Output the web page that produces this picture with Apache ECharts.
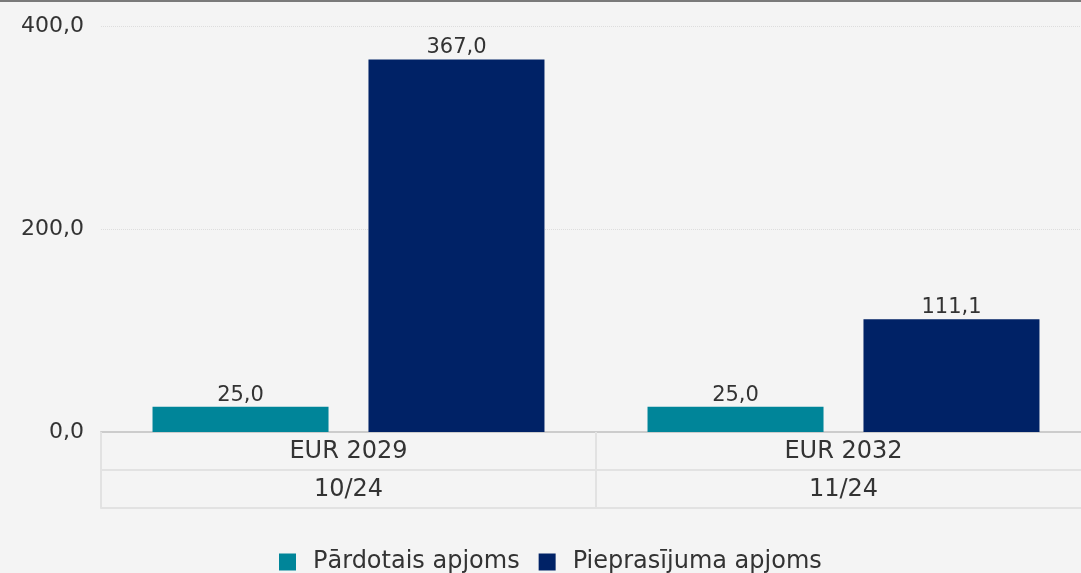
<!DOCTYPE html>
<html>
<head>
<meta charset="utf-8">
<script src="https://cdn.jsdelivr.net/npm/echarts@6/dist/echarts.min.js"></script>
<style>
  html, body { margin: 0; padding: 0; background: #f4f4f4; overflow: hidden; }
  #top { height: 2px; background: #7a7a7a; width: 1081px; }
  #chart { width: 1093px; height: 571px; }
</style>
</head>
<body>
<div id="top"></div>
<div id="chart"></div>
<script>
  // data
  var bonds = ['EUR 2029', 'EUR 2032'];
  var dates = ['10/24', '11/24'];
  var seriesNames = ['Pārdotais apjoms', 'Pieprasījuma apjoms'];
  var sold = [25.0, 25.0];
  var demand = [367.0, 111.1];
  var yTicks = [0, 200, 400];

  var fmt = function (v) { return Number(v).toFixed(1).replace('.', ','); };
  var font = 'DejaVu Sans';

  var myChart = echarts.init(document.getElementById('chart'));

  var option = {
    backgroundColor: '#f4f4f4',
    textStyle: { fontFamily: font },
    grid: { left: 101, top: 24, width: 990, height: 406 },
    legend: {
      data: seriesNames,
      left: 274,
      top: 543,
      itemWidth: 17,
      itemHeight: 17,
      itemGap: 19,
      icon: 'rect',
      textStyle: { fontSize: 24, color: '#333', fontFamily: font, padding: [0, 0, 0, 12] }
    },
    xAxis: [{
      type: 'category',
      data: bonds,
      position: 'bottom',
      axisLine: { lineStyle: { color: '#cccccc', width: 2 } },
      axisTick: { show: true, interval: 0, length: 76, lineStyle: { color: '#e2e2e2', width: 2 } },
      axisLabel: { fontSize: 24, color: '#333', margin: 8, fontFamily: font }
    }, {
      type: 'category',
      data: dates,
      position: 'bottom',
      offset: 38,
      axisLine: { lineStyle: { color: '#e2e2e2', width: 2 } },
      axisTick: { show: false },
      axisLabel: { fontSize: 24, color: '#333', margin: 8, fontFamily: font }
    }, {
      type: 'category',
      data: bonds,
      position: 'bottom',
      offset: 76,
      axisLine: { lineStyle: { color: '#e2e2e2', width: 2 } },
      axisTick: { show: false },
      axisLabel: { show: false }
    }],
    yAxis: {
      type: 'value',
      min: yTicks[0],
      max: yTicks[yTicks.length - 1],
      interval: 200,
      axisLine: { show: false },
      axisTick: { show: false },
      axisLabel: { fontSize: 22, color: '#333', margin: 17, formatter: fmt, fontFamily: font },
      splitLine: { lineStyle: { color: '#dddddd', type: 'dotted' } }
    },
    series: [{
      name: seriesNames[0],
      type: 'bar',
      xAxisIndex: 0,
      data: sold,
      barWidth: 176,
      barGap: '22.7%',
      itemStyle: { color: '#008599' },
      label: { show: true, position: 'top', distance: 1, formatter: function (p) { return fmt(p.value); }, fontSize: 21, color: '#333', fontFamily: font }
    }, {
      name: seriesNames[1],
      type: 'bar',
      xAxisIndex: 0,
      data: demand,
      barWidth: 176,
      itemStyle: { color: '#002266' },
      label: { show: true, position: 'top', distance: 1, formatter: function (p) { return fmt(p.value); }, fontSize: 21, color: '#333', fontFamily: font }
    }]
  };

  option && myChart.setOption(option);
</script>
</body>
</html>
